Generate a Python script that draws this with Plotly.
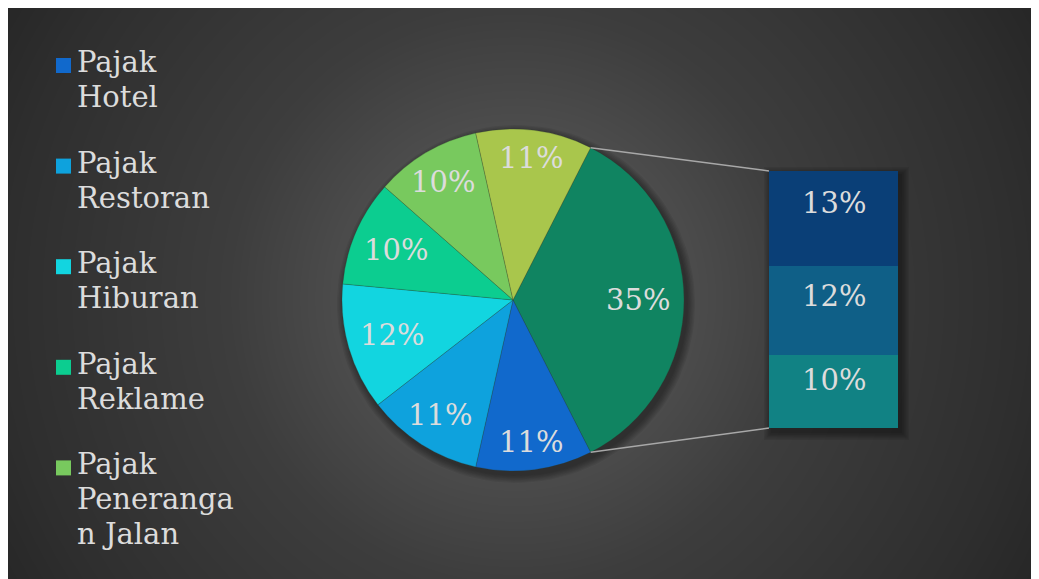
import numpy as np
import plotly.graph_objects as go

# ---------------- data ----------------
categories = ["Pajak Hotel", "Pajak Restoran", "Pajak Hiburan", "Pajak Reklame",
              "Pajak Penerangan Jalan", "Pajak Parkir",
              "Pajak Air Tanah", "Pajak Sarang Burung Walet", "BPHTB"]
values = [11, 11, 12, 10, 10, 11, 13, 12, 10]
n_pie = 6                      # first six go to the pie, the rest to the bar
other_label = "Lainnya"

pie_colors = ["#108461", "#1169cc", "#0ea2dd", "#12d5e0", "#0ccd90", "#78c95e", "#a9c64c"]
bar_colors = ["#0a3f77", "#0f5f87", "#118284"]

# figure sits inside the page's 8px body margin
OX, OY = 8, 8
W, H = 1031, 571
FONT = "DejaVu Serif"
FS = 29
TXT = "#dcdcdc"

total = sum(values)
bar_vals = values[n_pie:]
bar_cats = categories[n_pie:]
other_val = sum(bar_vals)
pie_labels = [other_label] + categories[:n_pie]
pie_values = [other_val] + values[:n_pie]
rotation = 90 - other_val / total * 360 / 2

# ---------------- layout geometry (page px) ----------------
pie_box = (342, 129, 684, 471)         # x0, y0, x1, y1
bar_box = (769, 171, 898, 428)

def fx(x):            # page px -> figure px
    return x - OX

def fy(y):
    return y - OY

def px_x(x):          # page px -> paper
    return (x - OX) / W

def px_y(y):
    return 1 - (y - OY) / H

fig = go.Figure()

# background radial gradient (heatmap on hidden axes, figure px coords)
gx = np.linspace(0, W, 90)
gy = np.linspace(0, H, 55)
cxg, cyg = fx(515), fy(298)
GX, GY = np.meshgrid(gx, gy)
Z = np.sqrt((GX - cxg) ** 2 + (GY - cyg) ** 2) / 600.0
fig.add_trace(go.Heatmap(
    x=gx, y=gy, z=Z, zmin=0, zmax=1, zsmooth="best", showscale=False,
    hoverinfo="skip",
    colorscale=[[0, "#595959"], [0.2, "#535353"], [0.48, "#3d3d3d"], [0.85, "#2e2e2e"], [1, "#262626"]],
    xaxis="x", yaxis="y"))

pcx = (pie_box[0] + pie_box[2]) / 2
pcy = (pie_box[1] + pie_box[3]) / 2
r = (pie_box[2] - pie_box[0]) / 2

# soft drop shadows (pie + bar), drawn on the background subplot
t = np.linspace(0, 2 * np.pi, 120)
for k in range(6):
    rr = r + 1 + k * 1.4
    fig.add_trace(go.Scatter(
        x=fx(pcx + 3) + rr * np.cos(t), y=fy(pcy + 4) + rr * np.sin(t),
        mode="lines", fill="toself", fillcolor="rgba(0,0,0,0.07)", line=dict(width=0),
        hoverinfo="skip", showlegend=False, xaxis="x", yaxis="y"))
    e = 1 + k * 1.4
    bx0, by0, bx1, by1 = fx(bar_box[0] + 3) - e, fy(bar_box[1] + 4) - e, fx(bar_box[2] + 3) + e, fy(bar_box[3] + 4) + e
    fig.add_trace(go.Scatter(
        x=[bx0, bx1, bx1, bx0, bx0], y=[by0, by0, by1, by1, by0],
        mode="lines", fill="toself", fillcolor="rgba(0,0,0,0.07)", line=dict(width=0),
        hoverinfo="skip", showlegend=False, xaxis="x", yaxis="y"))

# pie
fig.add_trace(go.Pie(
    labels=pie_labels, values=pie_values, sort=False, direction="clockwise",
    rotation=rotation,
    marker=dict(colors=pie_colors, line=dict(color="rgba(40,60,40,0.35)", width=0.7)),
    textinfo="none",
    domain=dict(x=[px_x(pie_box[0]), px_x(pie_box[2])],
                y=[px_y(pie_box[3]), px_y(pie_box[1])]),
    showlegend=False, hoverinfo="label+percent"))

# stacked bar (bottom first)
for cat, v, c in reversed(list(zip(bar_cats, bar_vals, bar_colors))):
    fig.add_trace(go.Bar(x=[0], y=[v], name=cat, marker=dict(color=c, line=dict(width=0)),
                         width=1, xaxis="x2", yaxis="y2", showlegend=False,
                         hovertemplate=cat + ": %{y}<extra></extra>"))

annotations = []

# pie data labels: at each slice's mid-angle, pushed out as far as the text box fits
cum = 0.0
half_w, half_h, pad = 31, 12, 15
for v in pie_values:
    mid = np.radians(rotation + (cum + v / 2) / total * 360)
    cum += v
    s, c = np.sin(mid), np.cos(mid)
    ext = np.sqrt((half_w * s) ** 2 + (half_h * c) ** 2)
    rl = r - ext - pad
    lx, ly = pcx + rl * s, pcy - rl * c
    annotations.append(dict(x=px_x(lx), y=px_y(ly), xref="paper", yref="paper",
                            xanchor="center", yanchor="middle", showarrow=False,
                            text=f"{v / total:.0%}", font=dict(family=FONT, size=FS, color=TXT)))

# bar labels
base = 0
for v in reversed(bar_vals):
    annotations.append(dict(x=0, y=base + 0.66 * v, xref="x2", yref="y2",
                            text=f"{v / total:.0%}", showarrow=False,
                            font=dict(family=FONT, size=FS, color=TXT)))
    base += v

# connector lines (from pie 'other' slice edges to bar corners)
a0 = np.radians(rotation)
a1 = np.radians(rotation + other_val / total * 360)
p0 = (pcx + r * np.sin(a0), pcy - r * np.cos(a0))
p1 = (pcx + r * np.sin(a1), pcy - r * np.cos(a1))
shapes = []
for (px_, py_), (bx, by) in [(p0, (bar_box[0], bar_box[1])), (p1, (bar_box[0], bar_box[3]))]:
    shapes.append(dict(type="line", xref="paper", yref="paper",
                       x0=px_x(px_), y0=px_y(py_), x1=px_x(bx), y1=px_y(by),
                       line=dict(color="#a8a8a8", width=1.5), layer="above"))

# legend (only the first five entries are visible in the reference)
def wrap(s, n=9):
    lines, cur = [], ""
    for w in s.split(" "):
        cand = (cur + " " + w) if cur else w
        if len(cand) <= n:
            cur = cand
            continue
        if cur:
            lines.append(cur)
        while len(w) > n:
            lines.append(w[:n])
            w = w[n:]
        cur = w
    if cur:
        lines.append(cur)
    return lines

first_baseline = 73      # page px
entry_step = 100.6
line_step = 35
for i in range(5):
    b0 = first_baseline + i * entry_step
    shapes.append(dict(type="rect", xref="paper", yref="paper",
                       x0=px_x(56), x1=px_x(71), y0=px_y(b0), y1=px_y(b0 - 15),
                       fillcolor=pie_colors[i + 1], line=dict(width=0)))
    for j, line in enumerate(wrap(categories[i])):
        top = b0 + j * line_step - 30
        annotations.append(dict(x=px_x(75), y=px_y(top), xref="paper", yref="paper",
                                xanchor="left", yanchor="top", align="left", showarrow=False,
                                text=line, font=dict(family=FONT, size=FS, color=TXT)))

hidden = dict(visible=False, showgrid=False, zeroline=False)
fig.update_layout(
    width=W, height=H, autosize=False,
    margin=dict(l=0, r=0, t=0, b=0),
    paper_bgcolor="#2a2a2a", plot_bgcolor="rgba(0,0,0,0)",
    barmode="stack", bargap=0,
    xaxis=dict(domain=[0, 1], range=[0, W], **hidden),
    yaxis=dict(domain=[0, 1], range=[H, 0], **hidden),
    xaxis2=dict(domain=[px_x(bar_box[0]), px_x(bar_box[2])], range=[-0.5, 0.5],
                anchor="y2", **hidden),
    yaxis2=dict(domain=[px_y(bar_box[3]), px_y(bar_box[1])], range=[0, other_val],
                anchor="x2", **hidden),
    shapes=shapes, annotations=annotations,
)

fig.write_html("out.html")
